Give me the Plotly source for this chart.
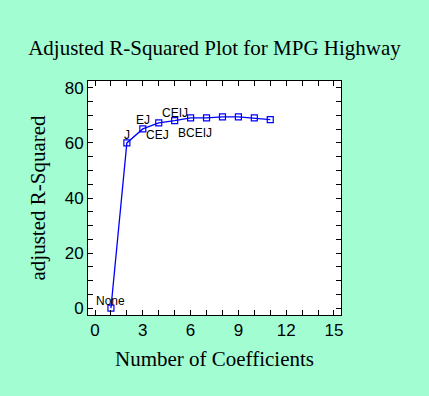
import plotly.graph_objects as go

coefficients = [1, 2, 3, 4, 5, 6, 7, 8, 9, 10, 11]
adj_r2 = [0.0, 60.0, 65.1, 67.3, 68.1, 69.1, 69.1, 69.5, 69.5, 69.1, 68.5]
labels = ["None", "J", "EJ", "CEJ", "CEIJ", "BCEIJ", "", "", "", "", ""]

# label offsets in pixels (style only)
label_dx = [0, 0, 0, -1, 0, 4, 0, 0, 0, 0, 0]
label_dy = [7, 8, 8.5, -12, 8, -15, 0, 0, 0, 0, 0]

bg = "#A3FDD3"
serif = "Liberation Serif, Times New Roman, serif"
sans = "Liberation Sans, Arial, sans-serif"

fig = go.Figure()
fig.add_trace(go.Scatter(
    x=coefficients, y=adj_r2, mode="lines+markers",
    line=dict(color="#0000FF", width=1.3),
    marker=dict(symbol="square-open", size=6, color="#0000FF", line=dict(width=1.2)),
    cliponaxis=False,
))

for xv, yv, lab, dx, dy in zip(coefficients, adj_r2, labels, label_dx, label_dy):
    if lab:
        fig.add_annotation(x=xv, y=yv, text=lab, showarrow=False,
                           xanchor="center", yanchor="middle",
                           xshift=dx, yshift=dy,
                           font=dict(family=sans, size=12, color="black"))

fig.update_layout(
    width=429, height=396,
    paper_bgcolor=bg, plot_bgcolor="white",
    margin=dict(l=88, r=88, t=81, b=81),
    showlegend=False,
    title=dict(text="Adjusted R-Squared Plot for MPG Highway",
               font=dict(family=serif, size=21, color="black"),
               x=0.5, xanchor="center", y=1 - 48/396, yanchor="middle"),
)
fig.update_xaxes(
    range=[-0.44, 15.44], tickmode="linear", tick0=0, dtick=3,
    ticks="inside", ticklen=5, tickcolor="black", mirror="allticks",
    showline=True, linecolor="black", linewidth=1, showgrid=False, zeroline=False,
    minor=dict(dtick=1, ticks="inside", ticklen=5, tickcolor="black", showgrid=False),
    tickfont=dict(family=sans, size=17, color="black"),
    title=dict(text="Number of Coefficients", standoff=11,
               font=dict(family=serif, size=21, color="black")),
)
fig.update_yaxes(
    range=[-2.5, 82.5], tickmode="linear", tick0=0, dtick=20,
    ticks="inside", ticklen=5, tickcolor="black", mirror="allticks",
    showline=True, linecolor="black", linewidth=1, showgrid=False, zeroline=False,
    minor=dict(dtick=5, ticks="inside", ticklen=5, tickcolor="black", showgrid=False),
    tickfont=dict(family=sans, size=17, color="black"),
    title=dict(text="adjusted R-Squared", standoff=13,
               font=dict(family=serif, size=21, color="black")),
)

fig.write_html("out.html", config={"displayModeBar": False})

with open("out.html", encoding="utf-8") as f:
    html = f.read()
html = html.replace("<head>", "<head><style>html,body{margin:0;padding:0;background:%s;}</style>" % bg, 1)
with open("out.html", "w", encoding="utf-8") as f:
    f.write(html)
